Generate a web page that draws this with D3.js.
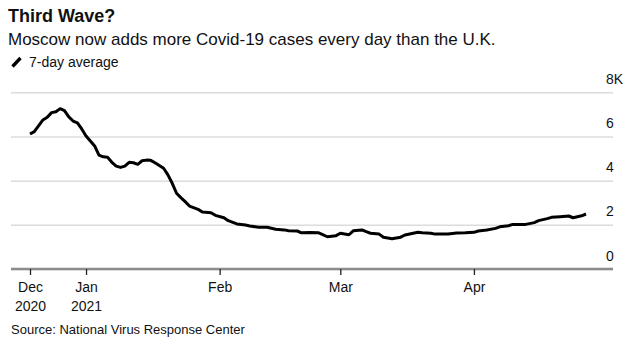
<!DOCTYPE html>
<html>
<head>
<meta charset="utf-8">
<script src="https://cdn.jsdelivr.net/npm/d3@7"></script>
<style>
body { margin: 0; background: #fff; }
text { font-family: "Liberation Sans", Arial, sans-serif; fill: #111; }
</style>
</head>
<body>
<div id="chart-area"></div>
<script>
// Moscow daily new Covid-19 cases, 7-day average
var dates = [
    '2020-12-19','2020-12-20','2020-12-22','2020-12-23','2020-12-24','2020-12-25','2020-12-26',
    '2020-12-27','2020-12-28','2020-12-29','2020-12-30','2020-12-31','2021-01-01','2021-01-03',
    '2021-01-04','2021-01-05','2021-01-06','2021-01-07','2021-01-08','2021-01-09','2021-01-10',
    '2021-01-11','2021-01-12','2021-01-13','2021-01-14','2021-01-15','2021-01-16','2021-01-17',
    '2021-01-19','2021-01-20','2021-01-21','2021-01-22','2021-01-23','2021-01-24','2021-01-25',
    '2021-01-27','2021-01-28','2021-01-30','2021-01-31','2021-02-02','2021-02-03','2021-02-05',
    '2021-02-07','2021-02-08','2021-02-10','2021-02-12','2021-02-14','2021-02-16','2021-02-17',
    '2021-02-19','2021-02-20','2021-02-22','2021-02-24','2021-02-26','2021-02-28','2021-03-01',
    '2021-03-03','2021-03-04','2021-03-06','2021-03-07','2021-03-08','2021-03-10','2021-03-11',
    '2021-03-13','2021-03-15','2021-03-16','2021-03-19','2021-03-20','2021-03-22','2021-03-23',
    '2021-03-26','2021-03-28','2021-03-30','2021-04-01','2021-04-02','2021-04-04','2021-04-06',
    '2021-04-07','2021-04-09','2021-04-10','2021-04-12','2021-04-13','2021-04-15','2021-04-16',
    '2021-04-18','2021-04-19','2021-04-21','2021-04-23','2021-04-24','2021-04-26','2021-04-27'
];
var cases = [
    6110, 6220, 6750, 6870, 7080, 7120, 7260,
    7170, 6890, 6700, 6620, 6340, 6020, 5570,
    5160, 5080, 5060, 4830, 4660, 4600, 4660,
    4830, 4810, 4740, 4900, 4930, 4920, 4810,
    4560, 4260, 3880, 3430, 3230, 3050, 2850,
    2700, 2580, 2550, 2430, 2320, 2190, 2040,
    1990, 1950, 1890, 1890, 1800, 1770, 1730,
    1720, 1640, 1650, 1640, 1460, 1510, 1620,
    1550, 1730, 1770, 1690, 1620, 1580, 1440,
    1370, 1440, 1540, 1660, 1640, 1620, 1580,
    1580, 1630, 1640, 1660, 1720, 1770, 1840,
    1910, 1960, 2020, 2020, 2020, 2100, 2190,
    2280, 2340, 2370, 2400, 2320, 2410, 2490
];

var yTicks = [0, 2000, 4000, 6000, 8000];
var yTickLabels = ['0', '2', '4', '6', '8K'];
var xTickDates = ['2020-12-19', '2021-01-01', '2021-02-01', '2021-03-01', '2021-04-01'];
var xTickLabels = [['Dec', '2020'], ['Jan', '2021'], ['Feb'], ['Mar'], ['Apr']];

var W = 637, H = 350;
var parse = d3.timeParse('%Y-%m-%d');

var svg = d3.select('#chart-area')
    .append('svg')
    .attr('width', W)
    .attr('height', H);

svg.append('rect').attr('width', W).attr('height', H).attr('fill', '#fff');

// titles
svg.append('text')
    .attr('x', 8).attr('y', 22)
    .attr('font-size', '18px')
    .attr('font-weight', 'bold')
    .text('Third Wave?');

svg.append('text')
    .attr('x', 8).attr('y', 45)
    .attr('font-size', '17px')
    .text('Moscow now adds more Covid-19 cases every day than the U.K.');

// legend
svg.append('line')
    .attr('x1', 12.5).attr('y1', 66.5)
    .attr('x2', 20.5).attr('y2', 58)
    .attr('stroke', '#000')
    .attr('stroke-width', 3.3);

svg.append('text')
    .attr('x', 29).attr('y', 67)
    .attr('font-size', '14px')
    .text('7-day average');

var x = d3.scaleTime()
    .domain([parse(dates[0]), parse(dates[dates.length - 1])])
    .range([30, 586]);

var y = d3.scaleLinear()
    .domain([0, 8000])
    .range([269, 92.3]);

// y gridlines + labels
var yAxis = svg.append('g')
    .attr('class', 'y-axis')
    .attr('transform', 'translate(613, 0)')
    .call(d3.axisLeft(y).tickValues(yTicks).tickSize(602)
        .tickFormat((d, i) => yTickLabels[i]));

yAxis.select('.domain').remove();
yAxis.selectAll('.tick line')
    .attr('stroke', '#dcdcdc')
    .attr('stroke-width', 1.5);
yAxis.selectAll('.tick text')
    .attr('x', -7)
    .attr('dy', -9)
    .attr('text-anchor', 'start')
    .attr('font-size', '14px')
    .attr('font-family', '"Liberation Sans", Arial, sans-serif')
    .attr('fill', '#111');

// x axis
var xAxis = svg.append('g')
    .attr('class', 'x-axis')
    .attr('transform', 'translate(0, 269)')
    .call(d3.axisBottom(x).tickValues(xTickDates.map(parse)).tickSize(6).tickFormat(''));

xAxis.select('.domain').remove();
xAxis.selectAll('.tick line')
    .attr('stroke', '#222')
    .attr('stroke-width', 1.3);

svg.insert('line', '.x-axis')
    .attr('x1', 11).attr('x2', 613)
    .attr('y1', 269).attr('y2', 269)
    .attr('stroke', '#8c8c8c')
    .attr('stroke-width', 2.5);

xAxis.selectAll('.tick').each(function(d, i) {
    var t = d3.select(this).append('text')
        .attr('text-anchor', 'middle')
        .attr('font-size', '14px')
        .attr('font-family', '"Liberation Sans", Arial, sans-serif')
        .attr('fill', '#111');
    xTickLabels[i].forEach((s, j) => {
        t.append('tspan').attr('x', 0).attr('y', 23 + j * 19).text(s);
    });
});

// line
var line = d3.line()
    .x((d, i) => x(parse(dates[i])))
    .y(d => y(d));

svg.append('path')
    .datum(cases)
    .attr('d', line)
    .attr('fill', 'none')
    .attr('stroke', '#000')
    .attr('stroke-width', 3)
    .attr('stroke-linejoin', 'round');

// source
svg.append('text')
    .attr('x', 11).attr('y', 334)
    .attr('font-size', '13px')
    .text('Source: National Virus Response Center');
</script>
</body>
</html>
